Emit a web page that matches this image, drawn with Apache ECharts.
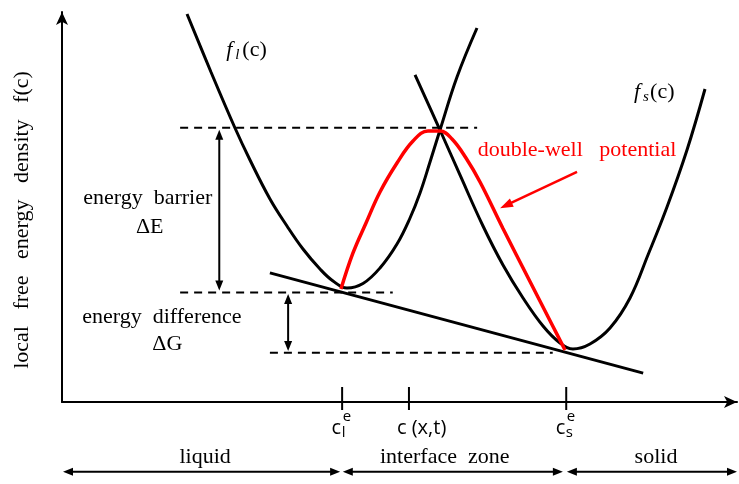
<!DOCTYPE html>
<html><head><meta charset="utf-8">
<script src="https://cdn.jsdelivr.net/npm/echarts@6/dist/echarts.min.js"></script>
<style>html,body{margin:0;padding:0;background:#fff}#c{width:739px;height:484px}</style>
</head><body><div id="c"></div>
<script>
// composition c along the x axis (0-100), free energy density f along the y axis (0-100)
const liquidC = [18.52,22.07,25.63,27.85,30.81,33.33,35.70,38.22,40.15,42.22,44.59,47.11,49.63,51.56,53.04,54.52,56.0,58.52,61.48];
const liquidF = [99.49,84.62,70.26,62.05,52.05,45.13,39.23,34.10,31.03,29.23,30.38,34.36,40.51,47.18,53.59,61.54,69.74,83.33,95.90];
const solidC = [52.30,56.0,58.96,62.37,65.33,68.30,71.26,73.78,75.70,78.22,81.19,84.15,86.81,89.63,92.59,95.26];
const solidF = [83.85,69.74,58.21,45.13,35.13,26.67,19.49,15.13,13.59,14.87,18.97,26.67,37.69,50.0,64.62,80.26];
const doubleWellC = [41.33,43.11,45.04,47.11,49.63,52.0,54.22,56.0,57.78,59.85,61.93,65.33,69.33,72.74,74.52];
const doubleWellF = [28.97,38.21,45.90,53.85,61.28,66.92,69.49,69.49,67.44,62.56,56.41,44.49,30.90,19.36,13.33];
const tangentC = [30.8, 86.1];
const tangentF = [33.1, 7.4];

// horizontal dashed reference levels
const dashStartC = [17.5, 17.5, 30.8];
const dashEndC = [61.5, 49.0, 72.7];
const dashLevelF = [70.3, 28.1, 12.6];

// arrows (ΔE, ΔG, pointer to double-well, liquid / interface / solid ranges)
const arrowFromC = [23.3, 33.5, 76.3, 0.15, 41.6, 74.8];
const arrowFromF = [28.6, 13.1, 59.0, -17.9, -17.9, -17.9];
const arrowToC = [23.3, 33.5, 64.9, 41.2, 74.2, 100];
const arrowToF = [69.8, 27.7, 49.7, -17.9, -17.9, -17.9];
const arrowBothEnds = [1, 1, 0, 1, 1, 1];

// x-axis ticks and their labels
const tickValues = [41.5, 51.4, 74.7];
const tickMain = ['c', 'c (x,t)', 'c'];
const tickSup = ['e', '', 'e'];
const tickSub = ['l', '', 's'];

// text annotations
const noteText = ['energy  barrier', 'ΔE', 'energy  difference', 'ΔG', 'double-well   potential', 'liquid', 'interface  zone', 'solid'];
const noteC = [12.7, 13.0, 14.8, 15.6, 76.3, 21.2, 56.7, 88.0];
const noteF = [52.3, 44.7, 21.7, 14.7, 64.6, -14.1, -14.1, -14.1];

// curve labels f_l(c), f_s(c)
const curveLabelMain = ['f', 'f'];
const curveLabelSub = ['l', 's'];
const curveLabelC = [24.2, 84.6];
const curveLabelF = [90.3, 79.5];

const yTitle = 'local   free   energy   density   f(c)';

const SERIF = '"Liberation Serif", "Times New Roman", serif';
const SANS = '"Open Sans", "Noto Sans", sans-serif';
const zip = (a, b) => a.map((v, i) => [v, b[i]]);

function arrowGroup(p1, p2, both, color, w, hl, hw) {
  const dx = p2[0] - p1[0], dy = p2[1] - p1[1];
  const L = Math.hypot(dx, dy), ux = dx / L, uy = dy / L, nx = -uy, ny = ux;
  const head = (tip, sx, sy) => ({
    type: 'polygon',
    shape: { points: [tip,
      [tip[0] - sx * hl + nx * hw / 2, tip[1] - sy * hl + ny * hw / 2],
      [tip[0] - sx * hl - nx * hw / 2, tip[1] - sy * hl - ny * hw / 2]] },
    style: { fill: color }
  });
  const s = both ? [p1[0] + ux * hl * 0.8, p1[1] + uy * hl * 0.8] : p1;
  const e = [p2[0] - ux * hl * 0.8, p2[1] - uy * hl * 0.8];
  const ch = [{ type: 'line', shape: { x1: s[0], y1: s[1], x2: e[0], y2: e[1] }, style: { stroke: color, lineWidth: w } }];
  ch.push(head(p2, ux, uy));
  if (both) ch.push(head(p1, -ux, -uy));
  return { type: 'group', children: ch };
}

function txt(x, y, text, font, color, align) {
  return { type: 'text', x: x, y: y,
    style: { text: text, font: font, fill: color || '#000', align: align || 'left', textAlign: align || 'left',
      verticalAlign: 'middle', textVerticalAlign: 'middle' } };
}

const chart = echarts.init(document.getElementById('c'));
chart.setOption({
  animation: false,
  backgroundColor: '#fff',
  grid: { left: 62, right: 2, top: 12, bottom: 82 },
  xAxis: {
    type: 'value', min: 0, max: 100,
    axisLine: { show: true, lineStyle: { color: '#000', width: 2 }, symbol: ['none', 'arrow'], symbolSize: [9, 13] },
    axisTick: { show: false }, axisLabel: { show: false }, splitLine: { show: false }
  },
  yAxis: {
    type: 'value', min: 0, max: 100,
    axisLine: { show: true, lineStyle: { color: '#000', width: 2 }, symbol: ['none', 'arrow'], symbolSize: [9, 13] },
    axisTick: { show: false }, axisLabel: { show: false }, splitLine: { show: false }
  },
  graphic: [{
    type: 'text', x: 22, y: 220, rotation: Math.PI / 2,
    style: { text: yTitle, font: '22px ' + SERIF, fill: '#000', align: 'center', verticalAlign: 'middle', textAlign: 'center', textVerticalAlign: 'middle' }
  }],
  series: [
    { name: 'dashes', type: 'custom', silent: true, z: 1,
      data: dashStartC.map((s, i) => [s, dashEndC[i], dashLevelF[i]]),
      renderItem: (params, api) => {
        const a = api.coord([api.value(0), api.value(2)]);
        const b = api.coord([api.value(1), api.value(2)]);
        return { type: 'line', shape: { x1: a[0], y1: a[1], x2: b[0], y2: b[1] }, style: { stroke: '#000', lineWidth: 2, lineDash: [8, 6] } };
      } },
    { name: 'tangent', type: 'line', data: zip(tangentC, tangentF), showSymbol: false, z: 2,
      lineStyle: { color: '#000', width: 3 } },
    { name: 'f_l', type: 'line', data: zip(liquidC, liquidF), smooth: 0.4, showSymbol: false, z: 3,
      lineStyle: { color: '#000', width: 3 } },
    { name: 'f_s', type: 'line', data: zip(solidC, solidF), smooth: 0.4, showSymbol: false, z: 3,
      lineStyle: { color: '#000', width: 3 } },
    { name: 'double-well', type: 'line', data: zip(doubleWellC, doubleWellF), smooth: 0.4, showSymbol: false, z: 4,
      lineStyle: { color: '#ff0000', width: 3.5 } },
    { name: 'arrows', type: 'custom', silent: true, z: 5,
      data: arrowFromC.map((c, i) => [c, arrowFromF[i], arrowToC[i], arrowToF[i], arrowBothEnds[i]]),
      renderItem: (params, api) => {
        const i = params.dataIndex;
        const p1 = api.coord([api.value(0), api.value(1)]);
        const p2 = api.coord([api.value(2), api.value(3)]);
        const red = i === 2;
        return arrowGroup(p1, p2, api.value(4) === 1, red ? '#ff0000' : '#000', red ? 2.5 : 2, red ? 13 : 10, red ? 9 : 8);
      } },
    { name: 'ticks', type: 'custom', silent: true, z: 5,
      data: tickValues.map(v => [v, 0]),
      renderItem: (params, api) => {
        const i = params.dataIndex;
        const p = api.coord([api.value(0), 0]);
        const ch = [{ type: 'line', shape: { x1: p[0], y1: p[1] - 15, x2: p[0], y2: p[1] + 8 }, style: { stroke: '#000', lineWidth: 2 } }];
        if (tickSup[i] || tickSub[i]) {
          ch.push(txt(p[0] - 1, p[1] + 26, tickMain[i], '20px ' + SANS, '#000', 'right'));
          ch.push(txt(p[0] + 0.5, p[1] + 15, tickSup[i], '15px ' + SANS, '#000', 'left'));
          ch.push(txt(p[0] - 0.5, p[1] + 31, tickSub[i], '15px ' + SANS, '#000', 'left'));
        } else {
          ch.push(txt(p[0] - 12, p[1] + 26, tickMain[i], '20px ' + SANS, '#000', 'left'));
        }
        return { type: 'group', children: ch };
      } },
    { name: 'notes', type: 'custom', silent: true, z: 6,
      data: noteC.map((c, i) => [c, noteF[i]]),
      renderItem: (params, api) => {
        const i = params.dataIndex;
        const p = api.coord([api.value(0), api.value(1)]);
        return txt(p[0], p[1], noteText[i], '22px ' + SERIF, i === 4 ? '#ff0000' : '#000', 'center');
      } },
    { name: 'curveLabels', type: 'custom', silent: true, z: 6,
      data: curveLabelC.map((c, i) => [c, curveLabelF[i]]),
      renderItem: (params, api) => {
        const i = params.dataIndex;
        const p = api.coord([api.value(0), api.value(1)]);
        return { type: 'group', children: [
          txt(p[0] + 1, p[1], curveLabelMain[i], 'italic 22px ' + SERIF, '#000', 'left'),
          txt(p[0] + 10, p[1] + 5.5, curveLabelSub[i], 'italic 15px ' + SERIF, '#000', 'left'),
          txt(p[0] + 17, p[1], '(c)', '22px ' + SERIF, '#000', 'left')
        ] };
      } }
  ]
});
</script></body></html>
